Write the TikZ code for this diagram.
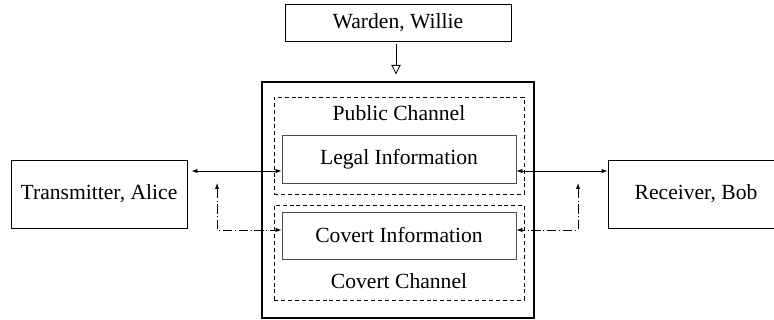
\documentclass[tikz,border=0pt]{standalone}
\usepackage{fontspec}
\setmainfont{Liberation Serif}
\usetikzlibrary{arrows.meta,positioning,calc}

\begin{document}
\begin{tikzpicture}
  [x=0.75pt, y=-0.75pt,
  font=\fontsize{16.2}{19}\selectfont,
  every node/.style={inner sep=0pt},
 ]
  \tikzstyle{party}=[draw, line width=0.6pt, minimum width=132pt, minimum height=51pt]
  \tikzstyle{channel}=[draw, line width=0.5pt, dash pattern=on 3pt off 2.2pt, minimum width=187.5pt]
  \tikzstyle{info}=[draw, line width=0.6pt, black!70, text=black, minimum width=175.5pt]
  \tikzstyle{link}=[draw, line width=0.6pt, {Latex[length=4.5pt,width=3.2pt]}-{Latex[length=4.5pt,width=3.2pt]}]
  \tikzstyle{hidden}=[link, dash pattern=on 7pt off 2pt on 0.8pt off 2pt]
\clip (0,0) rectangle (774,320);

% parties
\node[party, minimum width=169.5pt, minimum height=27.75pt] (warden) at (398,22.5) {Warden, Willie};
\node[party] (alice) at (99,194) {Transmitter, Alice};
\node[party] (bob) at (696,194) {Receiver, Bob};

% medium
\node[draw, line width=1pt, minimum width=204pt, minimum height=177pt] (medium) at (398,200) {};
\node[channel, minimum height=72.75pt] (public) at (399,145.5) {};
\node[channel, minimum height=71.25pt] (hiddench) at (399,252.5) {};
\node (publabel) at (399,113) {Public Channel};
\node[info, minimum height=36pt] (legal) at (399,159) {Legal Information};
\node[info, minimum height=35.25pt] (covert) at (399,235.5) {Covert Information};
\node (covlabel) at (399,281) {Covert Channel};

% connectors
\coordinate (lgl) at (0,171);
\coordinate (cvt) at (0,230);
\coordinate (lup) at (217,183);
\coordinate (rup) at (578,183);
\draw[line width=0.6pt, -{Triangle[open,length=7pt,width=7pt]}]
  ([xshift=-1.5pt,yshift=-2.25pt]warden.south) -- ([xshift=-1.5pt,yshift=5.25pt]medium.north);
\draw[link] ([xshift=3pt]alice.east |- lgl) -- (legal.west |- lgl);
\draw[link] (legal.east |- lgl) -- (bob.west |- lgl);
\draw[hidden] (lup) |- (covert.west |- cvt);
\draw[hidden] (rup) |- (covert.east |- cvt);
\end{tikzpicture}
\end{document}
